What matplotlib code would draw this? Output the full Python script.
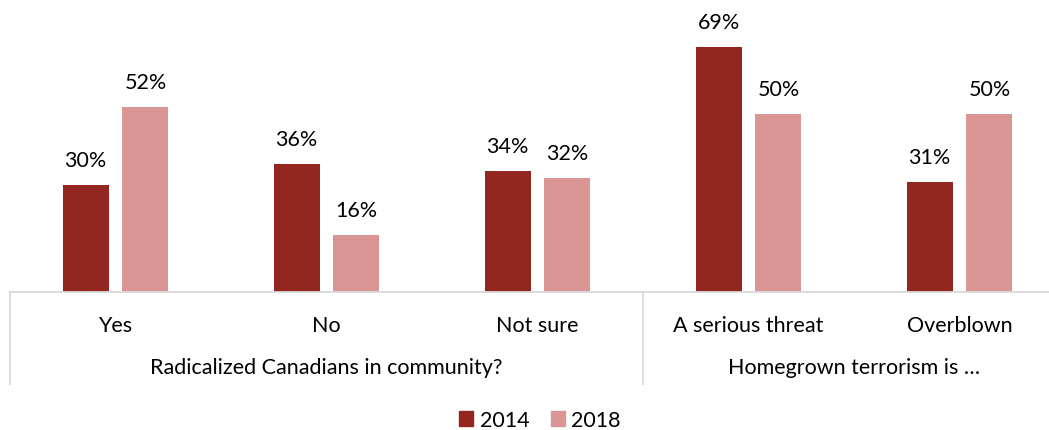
import matplotlib
matplotlib.use("Agg")
import matplotlib.pyplot as plt
from matplotlib.patches import Rectangle
import numpy as np

categories = ["Yes", "No", "Not sure", "A serious threat", "Overblown"]
groups = ["Radicalized Canadians in community?", "Homegrown terrorism is \u2026"]
group_spans = [(0, 2), (3, 4)]
years = ["2014", "2018"]
values_2014 = [30, 36, 34, 69, 31]
values_2018 = [52, 16, 32, 50, 50]

colors = ["#932720", "#DA9695"]
grid_gray = "#D9D9D9"

plt.rcParams["font.family"] = ["Lato", "DejaVu Sans"]
FS = 15.5

W, H = 1049, 431
fig = plt.figure(figsize=(W / 100, H / 100), dpi=100)
ax = fig.add_axes([10 / W, (H - 293) / H, 1055 / W, 293 / H])

x = np.arange(len(categories))
bw = 0.218
off = 0.142
for vals, dx, c in [(values_2014, -off, colors[0]), (values_2018, off, colors[1])]:
    ax.bar(x + dx, vals, width=bw, color=c, zorder=2)
    for xi, v in zip(x + dx, vals):
        ax.text(xi, v + 4.3, f"{v}%", ha="center", va="bottom", fontsize=FS, color="#000000")

ax.set_xlim(-0.5, len(categories) - 0.5)
ax.set_ylim(0, 82.5)
for s in ["top", "left", "right"]:
    ax.spines[s].set_visible(False)
ax.spines["bottom"].set_color(grid_gray)
ax.spines["bottom"].set_linewidth(1.3)
ax.set_yticks([])
ax.set_xticks([])

trans = ax.get_xaxis_transform()
px = 1 / 293  # one pixel in axes-fraction units (vertical)
for xi, name in zip(x, categories):
    ax.text(xi, -33 * px, name, transform=trans, ha="center", va="center", fontsize=FS)
for (a, b), name in zip(group_spans, groups):
    ax.text((a + b) / 2, -75 * px, name, transform=trans, ha="center", va="center", fontsize=FS)

# separators between category groups
for xs in [-0.5, 2.5]:
    ax.plot([xs, xs], [0, -92 * px], transform=trans, color=grid_gray, lw=1.3, clip_on=False)

# legend
handles = [Rectangle((0, 0), 1, 1, color=c) for c in colors]
fig.legend(handles, years, loc="center", bbox_to_anchor=(540 / W, 1 - 421 / H), ncol=2,
           frameon=False, fontsize=FS, handlelength=0.65, handleheight=0.65,
           handletextpad=0.3, columnspacing=1.0)

fig.savefig("out.png", dpi=100)
